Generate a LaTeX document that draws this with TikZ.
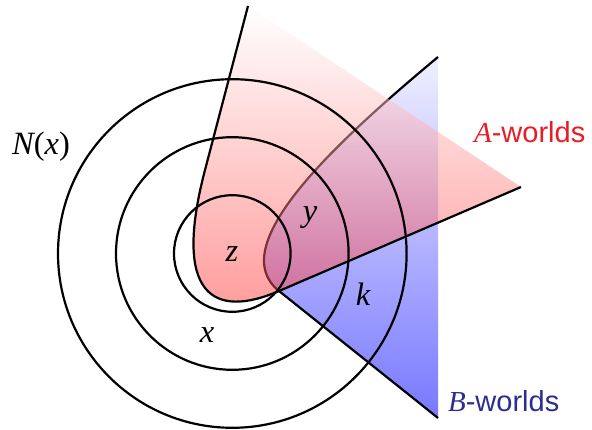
\documentclass[tikz,border=0pt]{standalone}
\usepackage{fontspec}
\setmainfont{Liberation Sans}
\newfontfamily\tmfont{Liberation Serif}
\newcommand\tmi[1]{{\tmfont\itshape #1}}
\definecolor{alabel}{RGB}{232,28,36}
\definecolor{blabel}{RGB}{45,45,145}
\begin{document}
\begin{tikzpicture}[x=1pt,y=-1pt,line width=2.2pt,
  ring/.style={draw=black},
  edge/.style={draw=black,line join=round},
  mathlbl/.style={inner sep=0pt,anchor=base,font=\fontsize{32.5}{38}\selectfont},
  worldlbl/.style={inner sep=0pt,anchor=base west,font=\fontsize{29}{34}\selectfont}]
\useasboundingbox (0,0) rectangle (592,430);
% key points
\coordinate (C) at (232.3,253.5);
\coordinate (T) at (279,291);
\coordinate (B1) at (438,57);
\coordinate (B2) at (438,418);
\coordinate (A1) at (248,6);
\coordinate (A2) at (205,170);
\coordinate (A3) at (521,187);
% B-worlds
\shade[top color=blue!6,bottom color=blue!53]
  (T) .. controls (224,247) and (330,147) .. (B1) -- (B2) -- cycle;
\draw[edge] (B1) .. controls (330,147) and (224,247) .. (T) -- (B2);
% A-worlds
\path[top color=white,bottom color=red!80,fill opacity=0.5]
  (A1) -- (A2) .. controls (172,296) and (214,319) .. (T) -- (A3) -- cycle;
\draw[edge] (A1) -- (A2) .. controls (172,296) and (214,319) .. (T) -- (A3);
% spheres
\draw[ring] (C) circle[radius=58.3];
\draw[ring] (C) circle[radius=116.3];
\draw[ring] (C) circle[radius=174.3];
% labels
\node[mathlbl,anchor=base west] (lN) at (11,154.5) {\tmi{N}{\tmfont(}\tmi{x}{\tmfont)}};
\node[mathlbl] (lz) at (232,261.5) {\tmi{z}};
\node[mathlbl] (ly) at (310,222) {\tmi{y}};
\node[mathlbl] (lx) at (207,343) {\tmi{x}};
\node[mathlbl] (lk) at (363,306) {\tmi{k}};
\node[worldlbl,text=alabel] (la) at (473,143) {\tmfont\itshape A\normalfont-worlds};
\node[worldlbl,text=blabel] (lb) at (447,411.5) {\tmfont\itshape B\normalfont-worlds};
\end{tikzpicture}
\end{document}
